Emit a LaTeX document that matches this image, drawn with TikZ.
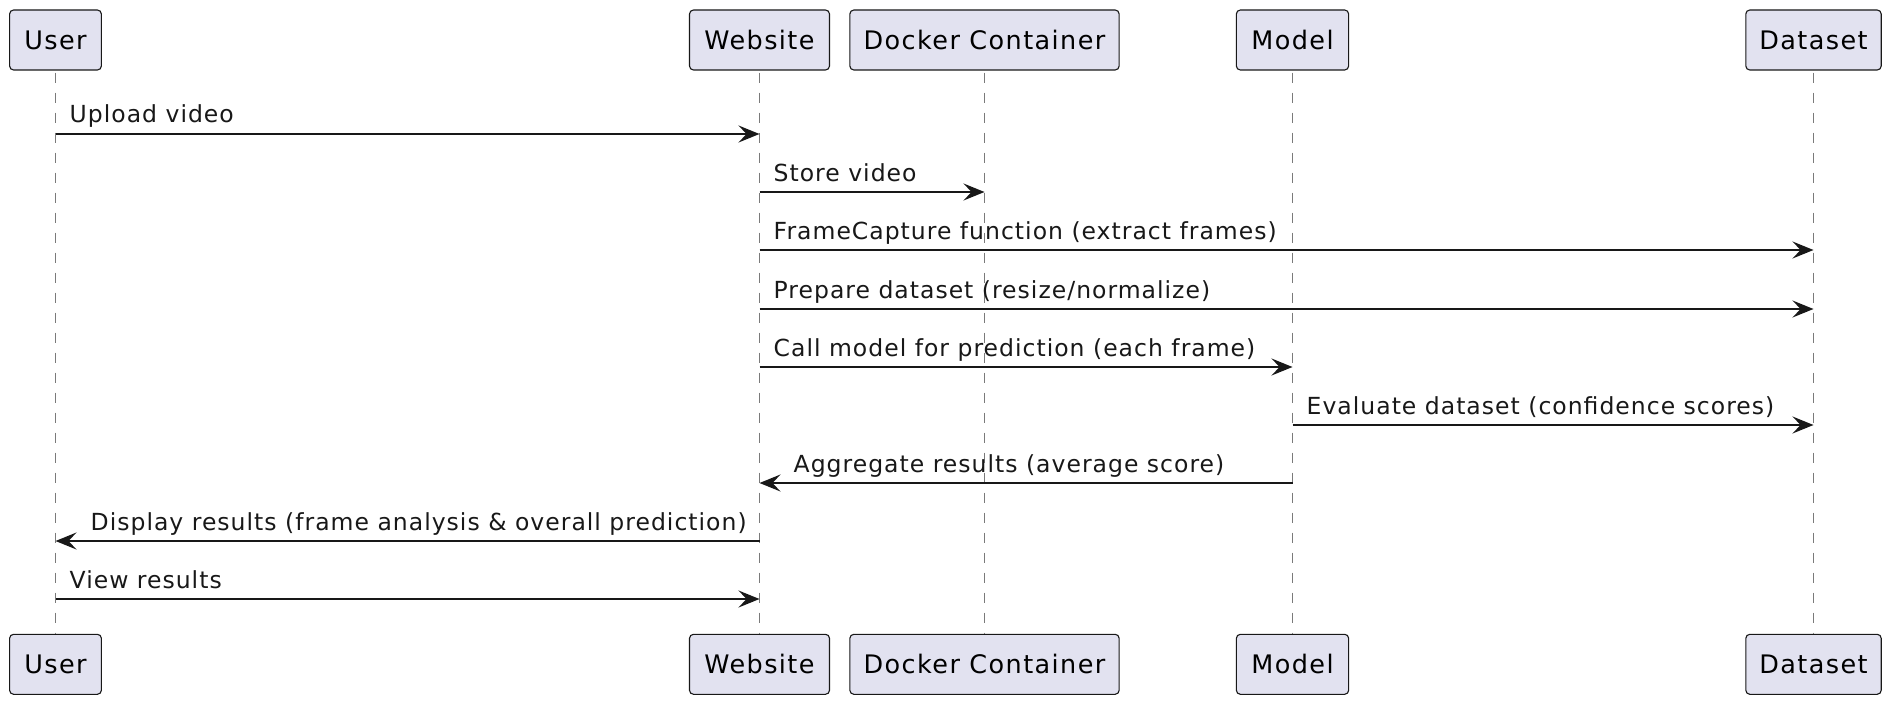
\documentclass[tikz,border=0pt]{standalone}
\usepackage{fontspec}
\setmainfont{DejaVu Sans}
\newfontfamily\msgfont[LetterSpace=4.3]{DejaVu Sans}
\newfontfamily\partfont[LetterSpace=5.5]{DejaVu Sans}
\usetikzlibrary{arrows.meta}
\definecolor{pfill}{HTML}{E2E2F0}
\definecolor{pline}{HTML}{181818}
\definecolor{lline}{HTML}{7A7A7A}
\begin{document}
\begin{tikzpicture}[x=1pt,y=-1pt,
  part/.style={draw=pline, fill=pfill, rounded corners=4pt, line width=1.1pt,
    minimum height=60pt, inner sep=0pt, font=\partfont\fontsize{25.5}{30}\selectfont},
  life/.style={draw=lline, dash pattern=on 10pt off 10pt, dash phase=-2pt, line width=1.4pt},
  msg/.style={draw=pline, line width=1.8pt, -{Stealth[length=21pt,width=17pt,inset=8pt]}},
  lbl/.style={font=\msgfont\fontsize{23.5}{28}\selectfont, anchor=base west, inner sep=0pt, text=pline}]
\useasboundingbox (0,0) rectangle (1894,706);
% participants top
\node[part, minimum width=91.8pt]  (userT) at (55.5,40) {User};
\node[part, minimum width=140pt]   (webT)  at (759.5,40) {Website};
\node[part, minimum width=269.3pt] (dockT) at (984.5,40) {Docker Container};
\node[part, minimum width=112.3pt] (modT)  at (1292.5,40) {Model};
\node[part, minimum width=135.4pt] (dataT) at (1813.5,40) {Dataset};
% participants bottom
\node[part, minimum width=91.8pt]  (userB) at (55.5,664.3) {User};
\node[part, minimum width=140pt]   (webB)  at (759.5,664.3) {Website};
\node[part, minimum width=269.3pt] (dockB) at (984.5,664.3) {Docker Container};
\node[part, minimum width=112.3pt] (modB)  at (1292.5,664.3) {Model};
\node[part, minimum width=135.4pt] (dataB) at (1813.5,664.3) {Dataset};
% lifelines
\foreach \p in {user,web,dock,mod,data}{
  \draw[life] (\p T.south) -- (\p B.north);
}
% messages
\draw[msg] (userT.center |- 0,134) -- (webT.center |- 0,134);
\node[lbl] (l1) at ([xshift=14]userT.center |- 0,123) {Upload video};
\draw[msg] (webT.center |- 0,192) -- (dockT.center |- 0,192);
\node[lbl] (l2) at ([xshift=14]webT.center |- 0,181) {Store video};
\draw[msg] (webT.center |- 0,250) -- (dataT.center |- 0,250);
\node[lbl] (l3) at ([xshift=14]webT.center |- 0,239) {FrameCapture function (extract frames)};
\draw[msg] (webT.center |- 0,309) -- (dataT.center |- 0,309);
\node[lbl] (l4) at ([xshift=14]webT.center |- 0,298) {Prepare dataset (resize/normalize)};
\draw[msg] (webT.center |- 0,367) -- (modT.center |- 0,367);
\node[lbl] (l5) at ([xshift=14]webT.center |- 0,356) {Call model for prediction (each frame)};
\draw[msg] (modT.center |- 0,425) -- (dataT.center |- 0,425);
\node[lbl] (l6) at ([xshift=14]modT.center |- 0,414) {Evaluate dataset (confidence scores)};
\draw[msg] (modT.center |- 0,483) -- (webT.center |- 0,483);
\node[lbl] (l7) at ([xshift=34]webT.center |- 0,472) {Aggregate results (average score)};
\draw[msg] (webT.center |- 0,541) -- (userT.center |- 0,541);
\node[lbl] (l8) at ([xshift=35]userT.center |- 0,530) {Display results (frame analysis \& overall prediction)};
\draw[msg] (userT.center |- 0,599) -- (webT.center |- 0,599);
\node[lbl] (l9) at ([xshift=14]userT.center |- 0,588) {View results};
\end{tikzpicture}
\end{document}
